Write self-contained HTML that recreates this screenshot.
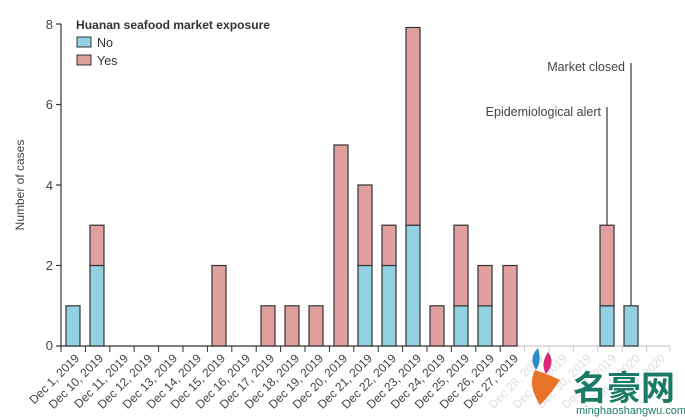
<!DOCTYPE html>
<html><head><meta charset="utf-8"><style>
html,body{margin:0;padding:0;background:#fff;}
svg{display:block;font-family:"Liberation Sans",sans-serif;}
</style></head><body>
<svg width="685" height="420" viewBox="0 0 685 420" xmlns="http://www.w3.org/2000/svg">
<rect width="685" height="420" fill="#fff"/>
<g stroke="#333" stroke-width="1.2">
<line x1="61" y1="24" x2="61" y2="346"/>
<line x1="56" y1="24" x2="61" y2="24"/>
<line x1="56" y1="104.5" x2="61" y2="104.5"/>
<line x1="56" y1="185" x2="61" y2="185"/>
<line x1="56" y1="265.5" x2="61" y2="265.5"/>
<line x1="56" y1="346" x2="61" y2="346"/>
<line x1="61" y1="346" x2="505" y2="346"/>
</g>
<line x1="505" y1="346" x2="670" y2="346" stroke="#ccc" stroke-width="1.2"/>
<g font-size="13" fill="#444" text-anchor="end">
<text x="53" y="29">8</text><text x="53" y="109">6</text><text x="53" y="190">4</text><text x="53" y="270">2</text><text x="53" y="350">0</text>
</g>
<text transform="translate(24,185) rotate(-90)" font-size="12" fill="#444" text-anchor="middle">Number of cases</text>
<text x="76" y="29" font-size="12.2" font-weight="bold" fill="#333" textLength="194" lengthAdjust="spacingAndGlyphs">Huanan seafood market exposure</text>
<rect x="77" y="37" width="14" height="10" fill="#93d0e2" stroke="#333"/>
<text x="97" y="47" font-size="12.5" fill="#333">No</text>
<rect x="77" y="55" width="14" height="10" fill="#e0a09e" stroke="#333"/>
<text x="97" y="65" font-size="12.5" fill="#333">Yes</text>
<g stroke="#333" stroke-width="1">
<line x1="61" y1="346" x2="61" y2="352"/><line x1="85.4" y1="346" x2="85.4" y2="352"/><line x1="109.8" y1="346" x2="109.8" y2="352"/><line x1="134.2" y1="346" x2="134.2" y2="352"/><line x1="158.6" y1="346" x2="158.6" y2="352"/><line x1="183" y1="346" x2="183" y2="352"/><line x1="207.4" y1="346" x2="207.4" y2="352"/><line x1="231.8" y1="346" x2="231.8" y2="352"/><line x1="256.2" y1="346" x2="256.2" y2="352"/><line x1="280.6" y1="346" x2="280.6" y2="352"/><line x1="305" y1="346" x2="305" y2="352"/><line x1="329.4" y1="346" x2="329.4" y2="352"/><line x1="353.8" y1="346" x2="353.8" y2="352"/><line x1="378.2" y1="346" x2="378.2" y2="352"/><line x1="402.6" y1="346" x2="402.6" y2="352"/><line x1="427" y1="346" x2="427" y2="352"/><line x1="451.4" y1="346" x2="451.4" y2="352"/><line x1="475.8" y1="346" x2="475.8" y2="352"/><line x1="500.2" y1="346" x2="500.2" y2="352"/>
</g>
<g stroke="#ccc" stroke-width="1">
<line x1="524.6" y1="346" x2="524.6" y2="352"/><line x1="549" y1="346" x2="549" y2="352"/><line x1="573.4" y1="346" x2="573.4" y2="352"/><line x1="597.8" y1="346" x2="597.8" y2="352"/><line x1="622.2" y1="346" x2="622.2" y2="352"/><line x1="646.6" y1="346" x2="646.6" y2="352"/><line x1="670" y1="346" x2="670" y2="352"/>
</g>
<g stroke="#333" stroke-width="1.2">
<rect x="66" y="305.8" width="14" height="40.2" fill="#93d0e2"/>
<rect x="90" y="265.5" width="14" height="80.5" fill="#93d0e2"/>
<rect x="90" y="225.2" width="14" height="40.3" fill="#e0a09e"/>
<rect x="212" y="265.5" width="14" height="80.5" fill="#e0a09e"/>
<rect x="261" y="305.8" width="14" height="40.2" fill="#e0a09e"/>
<rect x="285" y="305.8" width="14" height="40.2" fill="#e0a09e"/>
<rect x="309" y="305.8" width="14" height="40.2" fill="#e0a09e"/>
<rect x="334" y="145" width="14" height="201" fill="#e0a09e"/>
<rect x="358" y="265.5" width="14" height="80.5" fill="#93d0e2"/>
<rect x="358" y="185" width="14" height="80.5" fill="#e0a09e"/>
<rect x="382" y="265.5" width="14" height="80.5" fill="#93d0e2"/>
<rect x="382" y="225.2" width="14" height="40.3" fill="#e0a09e"/>
<rect x="406" y="225.2" width="14" height="120.8" fill="#93d0e2"/>
<rect x="406" y="27.5" width="14" height="197.7" fill="#e0a09e"/>
<rect x="430" y="305.8" width="14" height="40.2" fill="#e0a09e"/>
<rect x="454" y="305.8" width="14" height="40.2" fill="#93d0e2"/>
<rect x="454" y="225.2" width="14" height="80.6" fill="#e0a09e"/>
<rect x="478" y="305.8" width="14" height="40.2" fill="#93d0e2"/>
<rect x="478" y="265.5" width="14" height="40.3" fill="#e0a09e"/>
<rect x="503" y="265.5" width="14" height="80.5" fill="#e0a09e"/>
<rect x="600" y="305.8" width="14" height="40.2" fill="#93d0e2"/>
<rect x="600" y="225.2" width="14" height="80.6" fill="#e0a09e"/>
<rect x="624" y="305.8" width="14" height="40.2" fill="#93d0e2"/>
</g>
<line x1="607" y1="107" x2="607" y2="225" stroke="#333" stroke-width="1.2"/>
<line x1="631" y1="63" x2="631" y2="306" stroke="#333" stroke-width="1.2"/>
<text x="601" y="116" font-size="12.5" fill="#444" text-anchor="end">Epidemiological alert</text>
<text x="625" y="71" font-size="12.5" fill="#444" text-anchor="end">Market closed</text>
<g font-size="12" fill="#444" text-anchor="end">
<text transform="translate(80,359) rotate(-45)">Dec 1, 2019</text>
<text transform="translate(104,359) rotate(-45)">Dec 10, 2019</text>
<text transform="translate(129,359) rotate(-45)">Dec 11, 2019</text>
<text transform="translate(153,359) rotate(-45)">Dec 12, 2019</text>
<text transform="translate(178,359) rotate(-45)">Dec 13, 2019</text>
<text transform="translate(202,359) rotate(-45)">Dec 14, 2019</text>
<text transform="translate(226,359) rotate(-45)">Dec 15, 2019</text>
<text transform="translate(251,359) rotate(-45)">Dec 16, 2019</text>
<text transform="translate(275,359) rotate(-45)">Dec 17, 2019</text>
<text transform="translate(300,359) rotate(-45)">Dec 18, 2019</text>
<text transform="translate(324,359) rotate(-45)">Dec 19, 2019</text>
<text transform="translate(348,359) rotate(-45)">Dec 20, 2019</text>
<text transform="translate(373,359) rotate(-45)">Dec 21, 2019</text>
<text transform="translate(397,359) rotate(-45)">Dec 22, 2019</text>
<text transform="translate(422,359) rotate(-45)">Dec 23, 2019</text>
<text transform="translate(446,359) rotate(-45)">Dec 24, 2019</text>
<text transform="translate(470,359) rotate(-45)">Dec 25, 2019</text>
<text transform="translate(495,359) rotate(-45)">Dec 26, 2019</text>
<text transform="translate(519,359) rotate(-45)">Dec 27, 2019</text>
</g>
<g font-size="12" fill="#ddd" text-anchor="end">
<text transform="translate(544,359) rotate(-45)">Dec 28, 2019</text>
<text transform="translate(568,359) rotate(-45)">Dec 29, 2019</text>
<text transform="translate(592,359) rotate(-45)">Dec 30, 2019</text>
<text transform="translate(617,359) rotate(-45)">Dec 31, 2019</text>
<text transform="translate(641,359) rotate(-45)">Jan 1, 2020</text>
<text transform="translate(666,359) rotate(-45)">Jan 2, 2020</text>
</g>
<path d="M535,370 q-8,15 5,35 q10,-10 20,-25 q-10,-5 -25,-10z" fill="#e8742a"/>
<path d="M538,348 q-10,10 -2,22 q6,-8 2,-22z" fill="#2a8ec8"/>
<path d="M548,352 q8,10 -2,22 q-6,-10 2,-22z" fill="#d8287a"/>
<text x="573" y="400" font-size="34" font-weight="bold" fill="#1a7a66" font-family="'Noto Sans CJK SC',sans-serif">名豪网</text>
<text x="576" y="414" font-size="11" fill="#1a7a66">minghaoshangwu.com</text>
</svg>
</body></html>
